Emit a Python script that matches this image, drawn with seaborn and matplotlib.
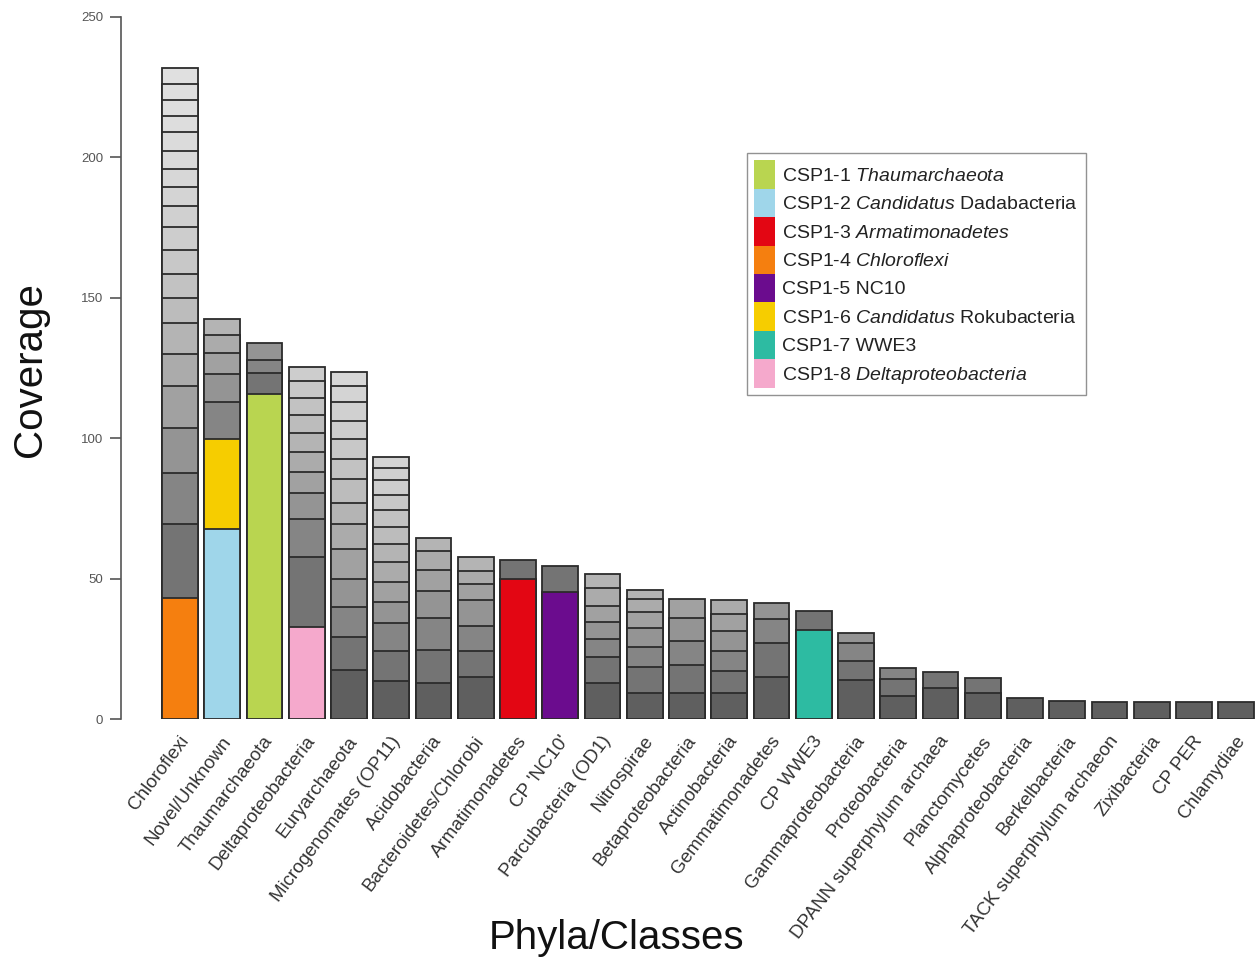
import numpy as np
import pandas as pd
import matplotlib
matplotlib.use("Agg")
import matplotlib.pyplot as plt
import matplotlib.transforms as mtransforms
from matplotlib.patches import Patch
import seaborn as sns

# ---------------- data ----------------
phyla = ["Chloroflexi", "Novel/Unknown", "Thaumarchaeota", "Deltaproteobacteria",
         "Euryarchaeota", "Microgenomates (OP11)", "Acidobacteria", "Bacteroidetes/Chlorobi",
         "Armatimonadetes", "CP 'NC10'", "Parcubacteria (OD1)", "Nitrospirae",
         "Betaproteobacteria", "Actinobacteria", "Gemmatimonadetes", "CP WWE3",
         "Gammaproteobacteria", "Proteobacteria", "DPANN superphylum archaea",
         "Planctomycetes", "Alphaproteobacteria", "Berkelbacteria",
         "TACK superphylum archaeon", "Zixibacteria", "CP PER", "Chlamydiae"]

# cumulative coverage at the top of each stacked genome segment (bottom -> top)
chloroflexi = [43.0, 69.6, 87.7, 103.5, 118.6, 130.0, 140.9, 149.8, 158.6, 167.0,
               175.3, 182.8, 189.5, 196.0, 202.4, 209.0, 214.7, 220.4, 226.0, 232.0]
novel = [67.8, 99.6, 113.0, 122.9, 130.5, 136.8, 142.3]
thaumarchaeota = [115.7, 123.3, 127.8, 133.8]
deltaproteobacteria = [32.6, 57.8, 71.2, 80.6, 88.1, 95.2, 101.7, 108.3, 114.2, 120.5, 125.5]
euryarchaeota = [17.5, 29.3, 40.0, 50.0, 60.4, 69.4, 77.0, 85.5, 92.6, 99.6,
                 106.1, 113.0, 118.6, 123.5]
microgenomates = [13.6, 24.3, 34.1, 41.8, 48.9, 56.0, 62.5, 68.5, 74.4, 79.8, 85.1, 89.3, 93.4]
acidobacteria = [12.7, 24.6, 35.9, 45.5, 53.1, 59.7, 64.4]
bacteroidetes = [15.1, 24.3, 33.1, 42.4, 48.2, 52.8, 57.6]
armatimonadetes = [50.0, 56.8]
cp_nc10 = [45.3, 54.5]
parcubacteria = [12.9, 22.2, 28.4, 34.7, 40.2, 46.5, 51.6]
nitrospirae = [9.2, 18.6, 25.6, 32.5, 38.2, 42.9, 46.0]
betaproteobacteria = [9.4, 19.2, 27.9, 35.8, 42.9]
actinobacteria = [9.1, 17.1, 24.3, 31.4, 37.5, 42.5]
gemmatimonadetes = [14.8, 26.9, 35.6, 41.4]
cp_wwe3 = [31.7, 38.6]
gammaproteobacteria = [13.9, 20.8, 26.9, 30.8]
proteobacteria = [8.2, 14.1, 18.0]
dpann = [10.9, 16.9]
planctomycetes = [9.1, 14.5]
alphaproteobacteria = [7.4]
berkelbacteria = [6.5]
tack = [6.2]
zixibacteria = [6.2]
cp_per = [6.2]
chlamydiae = [6.2]

segments = [chloroflexi, novel, thaumarchaeota, deltaproteobacteria, euryarchaeota,
            microgenomates, acidobacteria, bacteroidetes, armatimonadetes, cp_nc10,
            parcubacteria, nitrospirae, betaproteobacteria, actinobacteria,
            gemmatimonadetes, cp_wwe3, gammaproteobacteria, proteobacteria, dpann,
            planctomycetes, alphaproteobacteria, berkelbacteria, tack, zixibacteria,
            cp_per, chlamydiae]

# CSP1 genomes highlighted in colour: (phylum, segment index)
csp_labels = [r"CSP1-1 $\it{Thaumarchaeota}$",
              r"CSP1-2 $\it{Candidatus}$ Dadabacteria",
              r"CSP1-3 $\it{Armatimonadetes}$",
              r"CSP1-4 $\it{Chloroflexi}$",
              r"CSP1-5 NC10",
              r"CSP1-6 $\it{Candidatus}$ Rokubacteria",
              r"CSP1-7 WWE3",
              r"CSP1-8 $\it{Deltaproteobacteria}$"]
csp_colors = ["#B9D550", "#9FD6EA", "#E30613", "#F57F0F",
              "#6B0C8E", "#F6CD00", "#2DBBA2", "#F5A9CC"]
csp_phylum = ["Thaumarchaeota", "Novel/Unknown", "Armatimonadetes", "Chloroflexi",
              "CP 'NC10'", "Novel/Unknown", "CP WWE3", "Deltaproteobacteria"]
csp_segment = [0, 0, 0, 0, 0, 1, 0, 0]

# ---------------- style ----------------
sns.set_style("white")
plt.rcParams["font.family"] = ["Liberation Sans", "DejaVu Sans"]
plt.rcParams["mathtext.fontset"] = "custom"
plt.rcParams["mathtext.rm"] = "Liberation Sans"
plt.rcParams["mathtext.it"] = "Liberation Sans:italic"

EDGE = "#2b2b2b"


def seg_color(phylum, k):
    for p, s, c in zip(csp_phylum, csp_segment, csp_colors):
        if p == phylum and s == k:
            return c
    g = (95 + 135 * (1 - np.exp(-k / 6.0))) / 255.0
    return (g, g, g)


fig = plt.figure(figsize=(12.56, 9.59), dpi=100)
ax = fig.add_axes([121 / 1256, 240 / 959, 1135 / 1256, 702 / 959])

max_layers = max(len(s) for s in segments)
for k in reversed(range(max_layers)):
    rows = [(p, tops[k]) for p, tops in zip(phyla, segments) if len(tops) > k]
    df = pd.DataFrame(rows, columns=["phylum", "top"])
    pal = {p: seg_color(p, k) for p in df["phylum"]}
    sns.barplot(data=df, x="phylum", y="top", hue="phylum", palette=pal,
                order=phyla, hue_order=list(df["phylum"]), dodge=False,
                width=0.85, saturation=1, edgecolor=EDGE, linewidth=1.3,
                errorbar=None, legend=False, ax=ax)

ax.set_xlim(-1.396, 25.467)
ax.set_ylim(0, 250)

# axes / spines
for s in ["top", "right", "bottom"]:
    ax.spines[s].set_visible(False)
ax.spines["left"].set_color("#555555")
ax.spines["left"].set_linewidth(1.2)
ax.spines["left"].set_bounds(0, 250)
ax.set_yticks([0, 50, 100, 150, 200, 250])
ax.tick_params(axis="y", direction="out", length=8, width=1.2, color="#555555",
               labelsize=9.5, labelcolor="#555555", pad=5, left=True)
ax.set_xticks(range(len(phyla)))
ax.set_xticklabels(phyla, rotation=53, ha="right", rotation_mode="anchor",
                   fontsize=13.5, color="#333333")
ax.tick_params(axis="x", length=0, pad=10)
offset = mtransforms.ScaledTranslation(-1 / 72, 0, fig.dpi_scale_trans)
for lbl in ax.get_xticklabels():
    lbl.set_transform(lbl.get_transform() + offset)

ax.set_xlabel("Phyla/Classes", fontsize=29, color="#111111", va="center")
ax.xaxis.set_label_coords((617 - 121) / 1135, (719 - 938) / 702)
ax.set_ylabel("Coverage", fontsize=29, color="#111111", va="center")
ax.yaxis.set_label_coords((30 - 121) / 1135, (719 - 370) / 702)

handles = [Patch(facecolor=c, edgecolor="none") for c in csp_colors]
leg = ax.legend(handles, csp_labels, loc="upper left",
                bbox_to_anchor=((747 - 121) / 1135, (719 - 153) / 702),
                borderaxespad=0, fontsize=14, frameon=True, fancybox=False,
                handlelength=1.08, handleheight=1.87, handletextpad=0.36,
                labelspacing=0.0, borderpad=0.38)
leg.get_frame().set_edgecolor("#777777")
leg.get_frame().set_linewidth(1.0)
for t in leg.get_texts():
    t.set_color("#222222")

fig.savefig("out.png", dpi=100)
